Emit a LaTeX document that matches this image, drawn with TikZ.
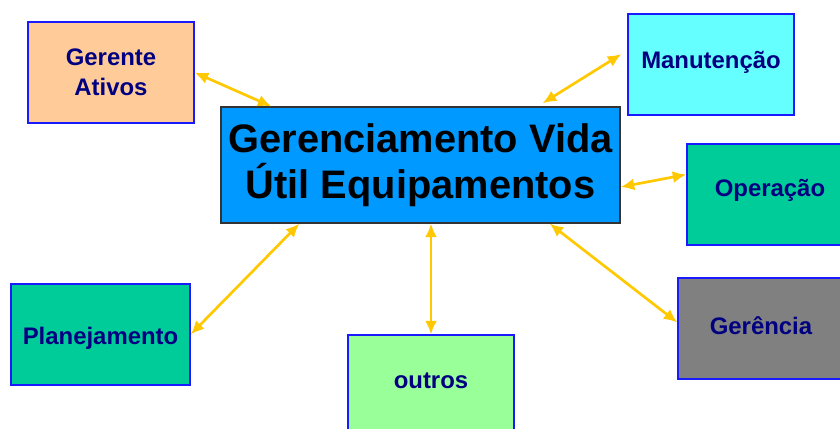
\documentclass[tikz,border=0pt]{standalone}
\usepackage{fontspec}
\setmainfont{Liberation Sans}
\usepackage{tikz}
\usetikzlibrary{arrows.meta}

\definecolor{pessego}{HTML}{FFCC99}
\definecolor{ciano}{HTML}{66FFFF}
\definecolor{azulcentro}{HTML}{0099FF}
\definecolor{verdeagua}{HTML}{00CC99}
\definecolor{verdeclaro}{HTML}{99FF99}
\definecolor{cinza}{HTML}{808080}
\definecolor{borda}{HTML}{1A1AFF}
\definecolor{marinho}{HTML}{000080}
\definecolor{ouro}{HTML}{FFC800}

\newcommand{\desloca}[2]{\raisebox{#1}[\height][\depth]{#2}}

\begin{document}
\begin{tikzpicture}[x=0.025cm,y=-0.025cm,
	caixa/.style={draw=borda,line width=0.9pt,minimum width=4.15cm,minimum height=2.525cm,
		align=center,text=marinho,font=\fontsize{17}{21}\selectfont\bfseries},
	seta/.style={draw=ouro,line width=1.9pt,{Latex[length=3.4mm,width=3mm]}-{Latex[length=3.4mm,width=3mm]}}]
	\useasboundingbox (0,0) rectangle (840,428);

	\node[draw=black!80,fill=azulcentro,line width=0.8pt,minimum width=9.975cm,minimum height=2.9cm,
		align=center,font=\fontsize{28.3}{32.7}\selectfont\bfseries] (centro) at (420.5,165)
		{Gerenciamento Vida\\Útil Equipamentos};

	\node[caixa,fill=pessego] (gerente) at (111,72.5) {Gerente\\Ativos};
	\node[caixa,fill=ciano] (manut) at (711,64.5) {\desloca{1.5pt}{Manutenção}};
	\node[caixa,fill=verdeagua] (operacao) at (770,194.5) {\desloca{3pt}{Operação}};
	\node[caixa,fill=cinza] (gerencia) at (761,328.5) {\desloca{2pt}{Gerência}};
	\node[caixa,fill=verdeagua,minimum width=4.475cm] (planej) at (100.5,334.5) {\desloca{-2.5pt}{Planejamento}};
	\node[caixa,fill=verdeclaro] (outros) at (431,385.5) {\desloca{3pt}{outros}};

	\draw[seta] (gerente.east) -- ([xshift=1.275cm]centro.north west);
	\draw[seta] ([shift={(-0.15cm,0.26cm)}]manut.west) -- ([xshift=-1.95cm,yshift=0.08cm]centro.north east);
	\draw[seta] ([yshift=0.5cm]operacao.west) -- ([yshift=-0.55cm]centro.east);
	\draw[seta] ([yshift=0.15cm]gerencia.west) -- ([xshift=-1.775cm]centro.south east);
	\draw[seta] (outros.north) -- (outros.north |- centro.south);
	\draw[seta] (planej.east) -- ([xshift=1.975cm]centro.south west);
\end{tikzpicture}
\end{document}
